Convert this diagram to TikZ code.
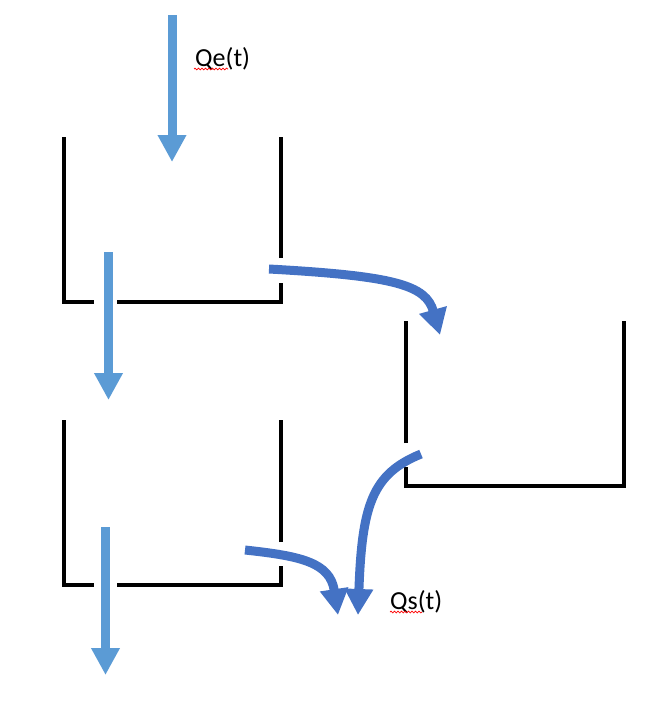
\documentclass[tikz,border=0pt]{standalone}
\usepackage{fontspec}
\setmainfont{Carlito}
\usetikzlibrary{arrows.meta,decorations.pathmorphing}
\definecolor{lightflow}{HTML}{5B9BD5}
\definecolor{darkflow}{HTML}{4472C4}
\tikzset{
  wall/.style={line width=4pt, black, line join=miter},
  inflow/.style={line width=9pt, lightflow, -{Triangle[width=27pt,length=27pt]}},
  sideflow/.style={line width=9pt, darkflow, -{Triangle[width=27pt,length=26pt]}},
  lbl/.style={font=\fontsize{26}{30}\selectfont, inner sep=0pt, anchor=base west},
  squiggle/.style={red, line width=0.7pt, decorate, decoration={snake, segment length=3.5pt, amplitude=0.9pt}}
}
\begin{document}
\begin{tikzpicture}[x=1pt, y=-1pt]
\useasboundingbox (0,0) rectangle (668,704);
% tank 1
\draw[wall] (281,258) -- (281,137);
\draw[wall] (64,137) -- (64,302) -- (94,302);
\draw[wall] (117,302) -- (281,302) -- (281,283);
% tank 2
\draw[wall] (281,542) -- (281,420);
\draw[wall] (64,420) -- (64,585) -- (94,585);
\draw[wall] (117,585) -- (281,585) -- (281,566);
% tank 3
\draw[wall] (406,443) -- (406,321);
\draw[wall] (406,467) -- (406,486) -- (624,486) -- (624,321);
% coordinates
\coordinate (qin) at (172,15);
\coordinate (qinEnd) at (172,162);
\coordinate (o1) at (108.5,252);
\coordinate (o1End) at (108.5,400);
\coordinate (o2) at (105.5,527);
\coordinate (o2End) at (105.5,675);
\coordinate (s1) at (269,269);
\coordinate (s1End) at (440,335);
\coordinate (s2) at (421,454);
\coordinate (s2End) at (358,615);
\coordinate (s3) at (245,550);
\coordinate (s3End) at (338,615);
% flows
\draw[inflow] (qin) -- (qinEnd);
\draw[inflow] (o1) -- (o1End);
\draw[inflow] (o2) -- (o2End);
\draw[sideflow] (s1) .. controls (395,276) and (426,285) .. (s1End);
\draw[sideflow] (s2) .. controls (372,474) and (362,505) .. (s2End);
\draw[sideflow] (s3) .. controls (300,556) and (330,562) .. (s3End);
% labels
\node[lbl] (qe) at (195,66.5) {Qe(t)};
\node[lbl] (qs) at (390,609) {Qs(t)};
\draw[squiggle] (194,69) -- (228,69);
\draw[squiggle] (390,612) -- (422,612);
\end{tikzpicture}
\end{document}
